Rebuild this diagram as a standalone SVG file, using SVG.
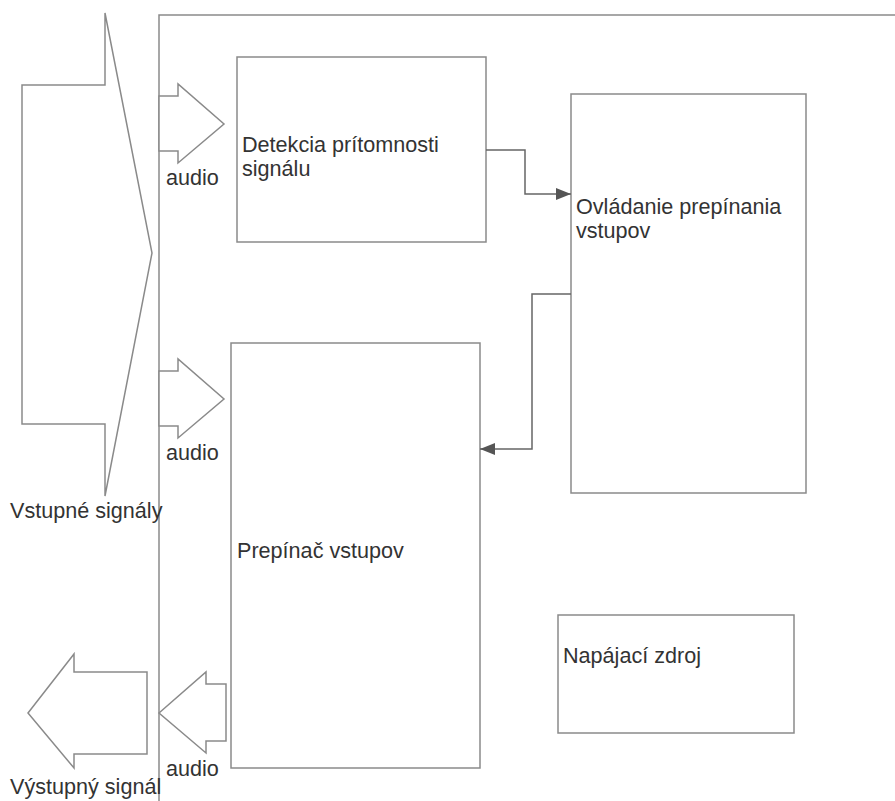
<svg xmlns="http://www.w3.org/2000/svg" width="895" height="801" viewBox="0 0 895 801">
<defs>
<style>
.s{fill:#fff;stroke:#8a8a8a;stroke-width:1.5}
.f{fill:none;stroke:#8a8a8a;stroke-width:1.5}
.c{fill:none;stroke:#666;stroke-width:1.5}
.t{font-family:"Liberation Sans",Arial,sans-serif;font-size:21.6px;fill:#333}
</style>
<marker id="ah" markerWidth="16" markerHeight="12" refX="15" refY="6" orient="auto" markerUnits="userSpaceOnUse">
<path d="M0,0 L15,6 L0,12 Z" fill="#555"/>
</marker>
</defs>
<rect width="895" height="801" fill="#fff"/>
<g id="frame">
<path class="f" d="M159,801 L159,15 L895,15"/>
</g>
<g id="vstupne-signaly">
<path class="s" d="M22,85 L105,85 L105,13 L152,253 L105,496 L105,424 L22,424 Z"/>
<text class="t" x="10" y="518">Vstupné signály</text>
</g>
<g id="vystupny-signal">
<path class="s" d="M28,713 L74,654 L74,672 L147,672 L147,754 L74,754 L74,768 Z"/>
<text class="t" x="10" y="794">Výstupný signál</text>
</g>
<g id="audio-in-1">
<path class="s" d="M159,96 L178,96 L178,84 L224,124 L178,163 L178,151 L159,151 Z"/>
<text class="t" x="166" y="185">audio</text>
</g>
<g id="audio-in-2">
<path class="s" d="M159,371 L178,371 L178,359 L224,399 L178,438 L178,426 L159,426 Z"/>
<text class="t" x="166" y="460">audio</text>
</g>
<g id="audio-out">
<path class="s" d="M159,713 L206,672 L206,684 L226,684 L226,741 L206,741 L206,753 Z"/>
<text class="t" x="166" y="776">audio</text>
</g>
<g id="detekcia">
<rect class="s" x="237" y="57" width="249" height="185"/>
<text class="t" x="242" y="152">Detekcia prítomnosti</text>
<text class="t" x="242" y="176">signálu</text>
</g>
<g id="ovladanie">
<rect class="s" x="571" y="94" width="235" height="399"/>
<text class="t" x="576" y="214">Ovládanie prepínania</text>
<text class="t" x="576" y="238">vstupov</text>
</g>
<g id="prepinac">
<rect class="s" x="231" y="343" width="249" height="425"/>
<text class="t" x="237" y="558">Prepínač vstupov</text>
</g>
<g id="napajaci-zdroj">
<rect class="s" x="558" y="615" width="236" height="118"/>
<text class="t" x="563" y="663">Napájací zdroj</text>
</g>
<g id="connectors">
<path class="c" d="M486,150 L525,150 L525,194 L571,194" marker-end="url(#ah)"/>
<path class="c" d="M571,294 L532,294 L532,449 L480,449" marker-end="url(#ah)"/>
</g>
</svg>
